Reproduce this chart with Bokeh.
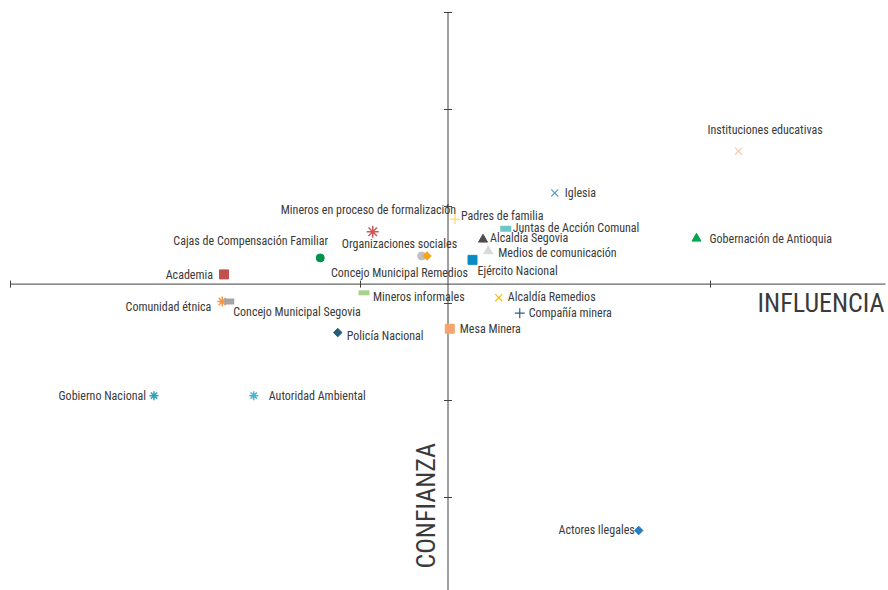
import math
from bokeh.plotting import figure
from bokeh.models import ColumnDataSource, Range1d, Label
from bokeh.core.properties import value
from bokeh.embed import file_html
from bokeh.resources import INLINE

# ---- data ----
actors = [
    "Instituciones educativas", "Iglesia", "Gobernación de Antioquia",
    "Mineros en proceso de formalización", "Padres de familia",
    "Juntas de Acción Comunal", "Alcaldía Segovia", "Medios de comunicación",
    "Ejército Nacional", "Cajas de Compensación Familiar",
    "Organizaciones sociales", "Concejo Municipal Remedios", "Academia",
    "Mineros informales", "Comunidad étnica", "Concejo Municipal Segovia",
    "Alcaldía Remedios", "Compañía minera", "Policía Nacional", "Mesa Minera",
    "Gobierno Nacional", "Autoridad Ambiental", "Actores Ilegales",
]
influencia = [4.16, 3.11, 3.92, 2.07, 2.54, 2.83, 2.70, 2.73, 2.64, 1.77,
              2.35, 2.38, 1.22, 2.02, 1.21, 1.25, 2.79, 2.91, 1.87, 2.51,
              0.82, 1.39, 3.59]
confianza = [4.57, 4.14, 3.67, 3.74, 3.87, 3.77, 3.66, 3.54, 3.45, 3.47,
             3.49, 3.49, 3.30, 3.11, 3.02, 3.02, 3.06, 2.90, 2.70, 2.74,
             2.05, 2.05, 0.66]
x_ticks = [0, 2, 4]
y_ticks = [0, 1, 2, 3, 4, 5, 6]
x_bounds = [0, 5]
y_bounds = [0, 6]
x_cross = 2.5
y_cross = 3.2

# ---- styles ----
D = math.pi / 4  # rotated square = diamond
marker_types = ["x", "x", "triangle", "asterisk", "cross", "dash", "triangle",
                "triangle", "square", "circle", "circle", "square", "square",
                "dash", "asterisk", "dash", "x", "cross", "square", "square",
                "asterisk", "asterisk", "square"]
marker_angles = [0, 0, 0, 0, 0, 0, 0, 0, 0, 0, 0, D, 0, 0, 0, 0, 0, 0, D, 0,
                 0, 0, D]
marker_colors = ["#f8cbad", "#5b9bd5", "#00a650", "#c9595a", "#ffd966",
                 "#6dc6c6", "#4d4d4d", "#d9d9d9", "#0a8ac4", "#00924a",
                 "#bfbfbf", "#f9a51a", "#c0504d", "#a9d18e", "#f79646",
                 "#a5a5a5", "#ffc000", "#2f5f8a", "#255e79", "#f4a46c",
                 "#31a0b8", "#4bb6c9", "#2e7dc1"]
marker_sizes = [10, 10, 9, 12, 10, 11, 9, 9, 9, 8, 8, 6, 9, 11, 10, 10, 10,
                10, 6, 9, 9, 9, 6]
marker_lw = [1.2, 1.2, 1, 1.5, 1.2, 6, 1, 1, 1, 1, 1, 1, 1, 5, 1.5, 6, 1.2,
             1.2, 1, 1, 1.5, 1.5, 1]
label_dx = [-31, 10, 13, -92, 6, 7, 7, 10, 5, 8, -80, -96, -11, 9, -11, 4,
            9, 9, 9, 10, -8, 15, -4]
label_dy = [-21, 0, 0, -22, -3, -1, -1, 2, 11, -17, -12, 17, 1, 4, 5, 10, -1,
            0, 3, 0, 0, 0, 0]
label_align = ["left", "left", "left", "left", "left", "left", "left", "left",
               "left", "right", "left", "left", "right", "left", "right",
               "left", "left", "left", "left", "left", "right", "left",
               "right"]

FONT = "Roboto Condensed"
TEXT_COLOR = "#3a3a3a"
AXIS_COLOR = "#404040"

src = ColumnDataSource(dict(
    x=influencia, y=confianza, name=actors, marker=marker_types,
    angle=marker_angles, color=marker_colors, size=marker_sizes,
    lw=marker_lw, dx=label_dx, dy=label_dy, align=label_align,
))

p = figure(width=888, height=590, output_backend="svg", toolbar_location=None,
           x_range=Range1d(-0.05714, 5.01714), y_range=Range1d(0.04124, 6.1237),
           x_axis_type=None, y_axis_type=None, min_border=0,
           outline_line_color=None, background_fill_color="white")
p.grid.visible = False

# axes crossing inside the plot: lines + tick marks from the tick arrays
p.segment(x0=[x_bounds[0]], y0=[y_cross], x1=[x_bounds[1]], y1=[y_cross],
          line_color=AXIS_COLOR, line_width=1)
p.segment(x0=[x_cross], y0=[y_bounds[0]], x1=[x_cross], y1=[y_bounds[1]],
          line_color=AXIS_COLOR, line_width=1)
p.scatter(x=x_ticks, y=[y_cross] * len(x_ticks), marker="dash", size=7,
          angle=math.pi / 2, line_color=AXIS_COLOR, line_width=1)
p.scatter(x=[x_cross] * len(y_ticks), y=y_ticks, marker="dash", size=8,
          line_color=AXIS_COLOR, line_width=1)

p.scatter("x", "y", marker="marker", size="size", angle="angle",
          line_color="color", fill_color="color", line_width="lw", source=src)

p.text("x", "y", text="name", x_offset="dx", y_offset="dy",
       text_align="align", text_baseline="middle",
       text_font=value(FONT), text_font_size="12px", text_color=TEXT_COLOR,
       source=src)

p.add_layout(Label(x=x_bounds[1], y=y_cross, x_offset=-1, y_offset=-19,
                   text="INFLUENCIA", text_align="right",
                   text_baseline="middle", text_font=FONT,
                   text_font_size="26px", text_color=TEXT_COLOR))
p.add_layout(Label(x=x_cross, y=y_bounds[0], x_offset=-22, y_offset=26,
                   text="CONFIANZA", text_align="left", angle=math.pi / 2,
                   text_baseline="middle", text_font=FONT,
                   text_font_size="26px", text_color=TEXT_COLOR))

open("out.html", "w").write(file_html(p, INLINE))
